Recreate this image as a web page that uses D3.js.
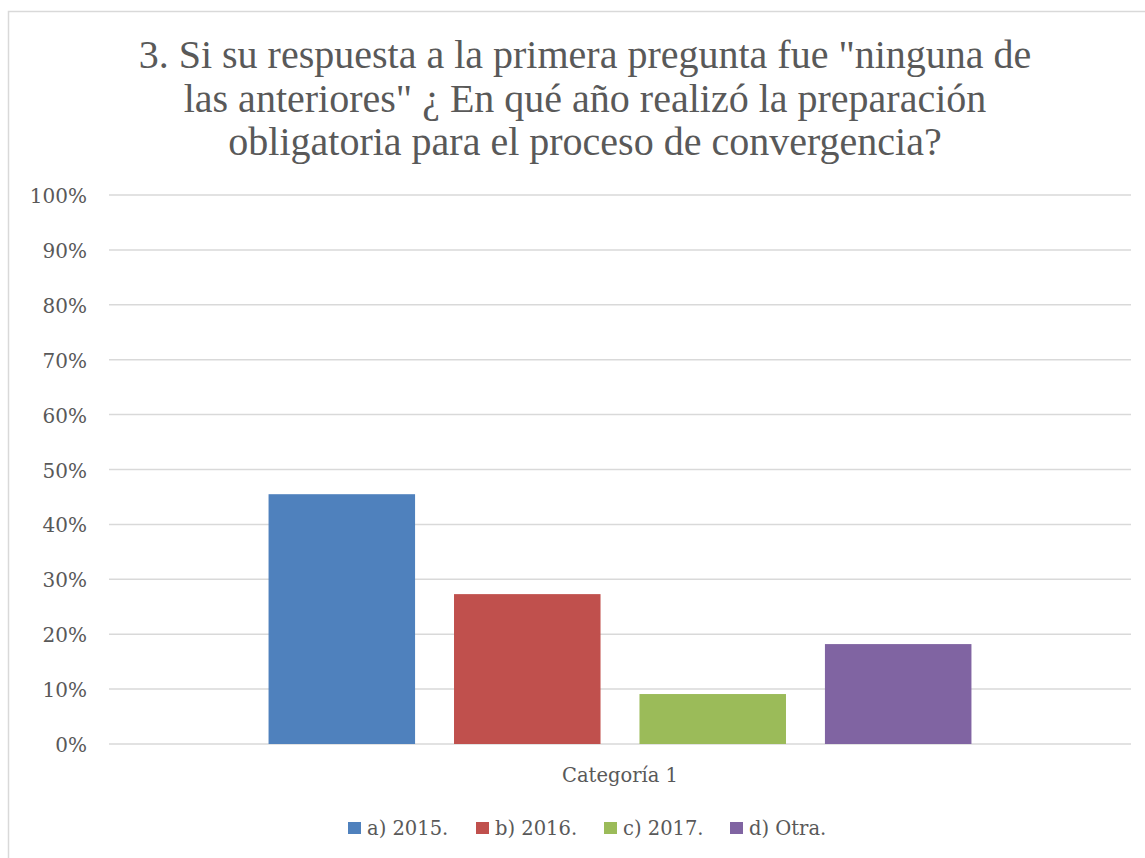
<!DOCTYPE html>
<html>
<head>
<meta charset="utf-8">
<script src="https://cdn.jsdelivr.net/npm/d3@7"></script>
<style>
  body { margin: 0; background: #fff; }
  text { font-family: "DejaVu Serif", "Liberation Serif", serif; fill: #595959; }
</style>
</head>
<body>
<div id="chart-area"></div>
<script>
const titleLines = ['3. Si su respuesta a la primera pregunta fue "ninguna de',
                    'las anteriores" ¿ En qué año realizó la preparación',
                    'obligatoria para el proceso de convergencia?']
const category = "Categoría 1"
const series = ["a) 2015.", "b) 2016.", "c) 2017.", "d) Otra."]
const values = [0.455, 0.273, 0.091, 0.182]
const colors = ["#4F81BD", "#C0504D", "#9BBB59", "#8064A2"]
const ticks = [0, 0.1, 0.2, 0.3, 0.4, 0.5, 0.6, 0.7, 0.8, 0.9, 1]

const w = 1145
const h = 858
const plotLeft = 109, plotRight = 1131, plotTop = 195, plotBottom = 744

const svg = d3.select("#chart-area")
              .append("svg")
              .attr("width", w)
              .attr("height", h)

// chart border
svg.append("rect")
   .attr("x", 8.5).attr("y", 11.5)
   .attr("width", w + 20).attr("height", h + 20)
   .attr("fill", "none")
   .attr("stroke", "#d9d9d9")
   .attr("stroke-width", 1.5)

// title
svg.append("g")
   .selectAll("text")
   .data(titleLines)
   .enter()
   .append("text")
   .attr("x", 585)
   .attr("y", (d, i) => 68 + i * 43.5)
   .attr("text-anchor", "middle")
   .style("font-family", "'Liberation Serif', serif")
   .style("font-size", "40px")
   .text(d => d)

const y = d3.scaleLinear().domain([0, 1]).range([plotBottom, plotTop])
const x0 = d3.scaleBand().domain([category]).range([plotLeft, plotRight]).paddingInner(0).paddingOuter(0.227)
const x1 = d3.scaleBand().domain(series).range([0, x0.bandwidth()]).paddingInner(0.21)

// gridlines
svg.append("g")
   .selectAll("line")
   .data(ticks)
   .enter()
   .append("line")
   .attr("x1", plotLeft).attr("x2", plotRight)
   .attr("y1", d => y(d)).attr("y2", d => y(d))
   .attr("stroke", "#d9d9d9")
   .attr("stroke-width", 1.5)

// y axis labels
svg.append("g")
   .selectAll("text")
   .data(ticks)
   .enter()
   .append("text")
   .attr("x", 87)
   .attr("y", d => y(d) + 8)
   .attr("text-anchor", "end")
   .style("font-size", "20px")
   .text(d => d3.format(".0%")(d))

// bars
svg.append("g")
   .selectAll("rect")
   .data(values)
   .enter()
   .append("rect")
   .attr("x", (d, i) => x0(category) + x1(series[i]))
   .attr("y", d => y(d))
   .attr("width", x1.bandwidth())
   .attr("height", d => y(0) - y(d))
   .attr("fill", (d, i) => colors[i])

// category label
svg.append("text")
   .attr("x", x0(category) + x0.bandwidth() / 2)
   .attr("y", 782)
   .attr("text-anchor", "middle")
   .style("font-size", "19.5px")
   .text(category)

// legend
const legendX = [348, 476, 604, 730]
const legend = svg.append("g")
                  .selectAll("g")
                  .data(series)
                  .enter()
                  .append("g")
                  .attr("transform", (d, i) => "translate(" + legendX[i] + ",822)")

legend.append("rect")
      .attr("width", 13).attr("height", 12)
      .attr("fill", (d, i) => colors[i])

legend.append("text")
      .attr("x", 19)
      .attr("y", 13)
      .style("font-size", "19.5px")
      .text(d => d)
</script>
</body>
</html>
